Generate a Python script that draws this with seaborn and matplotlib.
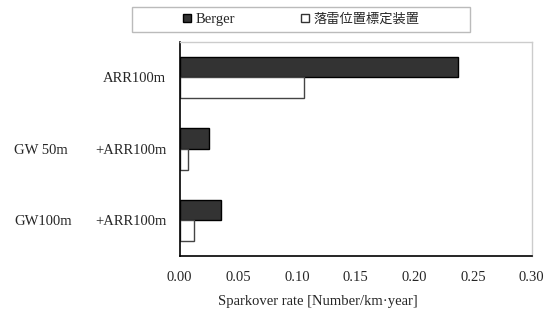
import matplotlib
matplotlib.use("Agg")
import matplotlib.pyplot as plt
import matplotlib.transforms as mtransforms
from matplotlib.lines import Line2D
from matplotlib.patches import Rectangle
import pandas as pd
import seaborn as sns

# data
gw_part = ["", "GW 50m", "GW100m"]
arr_part = ["ARR100m", "+ARR100m", "+ARR100m"]
categories = ["ARR100m", "GW 50m +ARR100m", "GW100m +ARR100m"]
series = ["Berger", "落雷位置標定装置"]
berger = [0.237, 0.025, 0.035]
locator = [0.106, 0.0075, 0.012]
x_ticks = [0.00, 0.05, 0.10, 0.15, 0.20, 0.25, 0.30]

sns.set_style("white")
plt.rcParams["font.family"] = ["Liberation Serif", "Noto Sans CJK JP"]

df = pd.DataFrame({
    "category": categories * 2,
    "series": [series[0]] * 3 + [series[1]] * 3,
    "value": berger + locator,
})

W, H = 549, 311
fig = plt.figure(figsize=(W / 100, H / 100), dpi=100)
ax = fig.add_axes([179.5 / W, 1 - 256 / H, 352.2 / W, 214.3 / H])

sns.barplot(data=df, y="category", x="value", hue="series", order=categories,
            hue_order=series, palette=["#333333", "white"], width=0.58,
            ax=ax, legend=False, orient="h")

edge_cols = ["black", "#444444"]
for cont, ec in zip(ax.containers, edge_cols):
    for bar in cont:
        bar.set_edgecolor(ec)
        bar.set_linewidth(1.0)

ax.set_xlim(0, 0.30)
ax.set_xticks(x_ticks)
ax.set_xticklabels([f"{t:.2f}" for t in x_ticks], fontsize=10.5)
ax.tick_params(axis="x", direction="in", length=5, color="#c8c8c8", pad=11)
ax.set_yticks(range(len(categories)))
ax.set_yticklabels(arr_part, fontsize=10.5)
ax.tick_params(axis="y", which="major", length=0, pad=9.5)
ax.set_yticks([0.5, 1.5], minor=True)
ax.tick_params(axis="y", which="minor", direction="in", length=4, color="#c8c8c8")
ax.set_ylabel("")
ax.set_xlabel("Sparkover rate [Number/km·year]", fontsize=10.5)
ax.xaxis.set_label_coords(0.392, -0.18)

for side in ["left", "bottom"]:
    ax.spines[side].set_color("black")
    ax.spines[side].set_linewidth(1.2)
for side in ["top", "right"]:
    ax.spines[side].set_color("#cccccc")
    ax.spines[side].set_linewidth(1.0)

# left part of the two-part category labels
trans = mtransforms.blended_transform_factory(fig.transFigure, ax.transData)
for i, g in enumerate(gw_part):
    if g:
        ax.text(14 / W, i, g, transform=trans, ha="left", va="center_baseline",
                fontsize=10.5)

# legend with a wide box above the plot
fig.patches.append(Rectangle((132 / W, 1 - 32 / H), 338 / W, 25 / H,
                             transform=fig.transFigure, fill=False,
                             edgecolor="#bbbbbb", linewidth=1.0))
handles = [
    Line2D([], [], marker="s", linestyle="none", markerfacecolor="#333333",
           markeredgecolor="black", markersize=5.5),
    Line2D([], [], marker="s", linestyle="none", markerfacecolor="white",
           markeredgecolor="#333333", markersize=5.5),
]
leg = fig.legend(handles, series, loc="center", bbox_to_anchor=(301 / W, 1 - 19.5 / H),
                 ncol=2, frameon=False, handlelength=0.6, handletextpad=0.3,
                 columnspacing=4.5, fontsize=10.5)
leg.get_texts()[1].set_fontsize(9.5)

fig.savefig("out.png", dpi=100)
